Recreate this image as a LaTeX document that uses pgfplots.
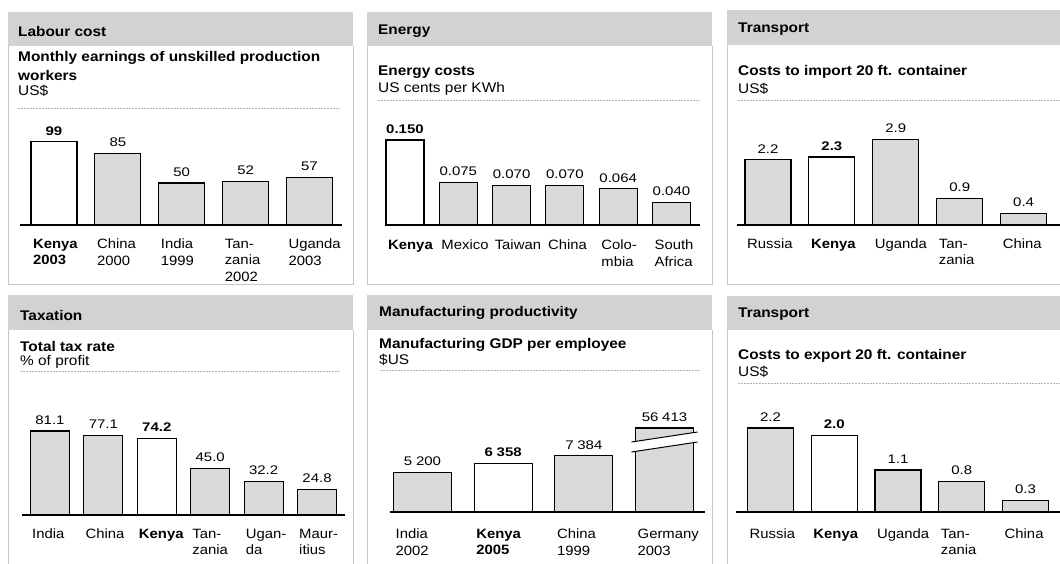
\documentclass[border=0pt]{standalone}
\usepackage{fontspec}
\setmainfont{Liberation Sans}[FakeStretch=1.1]
\newfontfamily\valfont{Liberation Sans}[FakeStretch=1.2]
\usepackage{pgfplots}
\pgfplotsset{compat=1.18}

\newcommand\hfont{\fontsize{14}{16}\selectfont\bfseries}
\newcommand\ufont{\fontsize{14}{16}\selectfont}
\newcommand\tfont{\fontsize{13.5}{16.5}\selectfont}
\newcommand\vfont{\valfont\fontsize{12.5}{14}\selectfont}
\newcommand\gsp{\hspace{0.3em}}

\pgfplotsset{
 panel/.style={scale only axis, height=100pt, clip=false,
  axis x line*=bottom, axis y line=none,
  x axis line style={line width=2.4pt,-},
  ymin=0, enlargelimits=false,
  major tick length=0pt,
  ybar, bar shift=0pt,
  nodes near coords, point meta=explicit symbolic,
  every node near coord/.append style={font=\vfont, inner sep=2pt, yshift=4pt, black},
  xticklabel style={anchor=north west, align=left, font=\tfont, inner sep=0pt, yshift=-14pt},
 },
 grey/.style={draw=black, line width=1.2pt, fill=gray!30},
 kenya/.style={draw=black, line width=1.2pt, fill=white},
}

\begin{document}
\begin{tikzpicture}
\useasboundingbox (0,0) rectangle (1060pt,-564pt);
\fill[white] (0,0) rectangle (1060pt,-564pt);

% ---------- panel frames ----------
\fill[gray!35] (8pt,-12pt) rectangle (353pt,-46pt);
\fill[gray!35] (367pt,-12pt) rectangle (712pt,-46pt);
\fill[gray!35] (727pt,-10pt) rectangle (1060pt,-45pt);
\fill[gray!35] (8pt,-295pt) rectangle (353pt,-330pt);
\fill[gray!35] (367pt,-295pt) rectangle (712pt,-330pt);
\fill[gray!35] (727pt,-296pt) rectangle (1060pt,-330pt);
\begin{scope}[gray!45, line width=0.5pt]
\draw (8pt,-46pt) -- (8pt,-284pt) -- (353pt,-284pt) -- (353pt,-46pt);
\draw (367pt,-46pt) -- (367pt,-284pt) -- (712pt,-284pt) -- (712pt,-46pt);
\draw (727pt,-45pt) -- (727pt,-284pt) -- (1060pt,-284pt);
\draw (8pt,-330pt) -- (8pt,-564pt);
\draw (353pt,-330pt) -- (353pt,-564pt);
\draw (367pt,-330pt) -- (367pt,-564pt);
\draw (712pt,-330pt) -- (712pt,-564pt);
\draw (727pt,-330pt) -- (727pt,-564pt);
\end{scope}
\begin{scope}[gray!60, dash pattern=on 2pt off 1pt, line width=0.6pt]
\draw (18pt,-108pt) -- (340pt,-108pt);
\draw (378pt,-100pt) -- (700pt,-100pt);
\draw (738pt,-100pt) -- (1060pt,-100pt);
\draw (20pt,-371pt) -- (340pt,-371pt);
\draw (380pt,-370pt) -- (700pt,-370pt);
\draw (738pt,-383pt) -- (1060pt,-383pt);
\end{scope}

% ---------- titles ----------
\node[anchor=west, font=\hfont, inner sep=0] at (18pt,-31pt) {Labour cost};
\node[anchor=west, font=\hfont, inner sep=0] at (18pt,-58pt) {Monthly earnings of unskilled production};
\node[anchor=west, font=\hfont, inner sep=0] at (18pt,-75pt) {workers};
\node[anchor=west, font=\ufont, inner sep=0] at (18pt,-91pt) {US\$};

\node[anchor=west, font=\hfont, inner sep=0] at (378pt,-31pt) {Energy};
\node[anchor=west, font=\hfont, inner sep=0] at (378pt,-72pt) {Energy costs};
\node[anchor=west, font=\ufont, inner sep=0] at (378pt,-89pt) {US cents per KWh};

\node[anchor=west, font=\hfont, inner sep=0] at (738pt,-29pt) {Transport};
\node[anchor=west, font=\hfont, inner sep=0] at (738pt,-72pt) {Costs to import 20 ft. container};
\node[anchor=west, font=\ufont, inner sep=0] at (738pt,-89pt) {US\$};

\node[anchor=west, font=\hfont, inner sep=0] at (20pt,-315pt) {Taxation};
\node[anchor=west, font=\hfont, inner sep=0] at (20pt,-346pt) {Total tax rate};
\node[anchor=west, font=\ufont, inner sep=0] at (20pt,-362pt) {\% of profit};

\node[anchor=west, font=\hfont, inner sep=0] at (379pt,-313pt) {Manufacturing productivity};
\node[anchor=west, font=\hfont, inner sep=0] at (379pt,-345pt) {Manufacturing GDP per employee};
\node[anchor=west, font=\ufont, inner sep=0] at (379pt,-360pt) {\$US};

\node[anchor=west, font=\hfont, inner sep=0] at (738pt,-314pt) {Transport};
\node[anchor=west, font=\hfont, inner sep=0] at (738pt,-356pt) {Costs to export 20 ft. container};
\node[anchor=west, font=\ufont, inner sep=0] at (738pt,-372pt) {US\$};

% ---------- Labour cost ----------
\begin{axis}[panel, at={(20pt,-225pt)}, anchor=south west,
  width=322pt, xmin=-0.532, xmax=4.509, ymax=119.05, bar width=46pt,
  xtick={0,...,4},
  xticklabels={{\textbf{Kenya}\\\textbf{2003}},{China\\2000},{India\\1999},{Tan-\\zania\\2002},{Uganda\\2003}},
  xticklabel style={xshift=-21pt}]
\addplot[grey] coordinates {(1,85) [85] (2,50) [50] (3,52) [52] (4,57) [57]};
\addplot[kenya] coordinates {(0,99) [\textbf{99}]};
\end{axis}

% ---------- Energy ----------
\begin{axis}[panel, at={(385pt,-225pt)}, anchor=south west,
  width=315pt, xmin=-0.375, xmax=5.535, ymax=0.1765, bar width=38pt,
  xtick={0,...,5},
  xticklabels={{\textbf{Kenya}},{Mexico},{Taiwan},{China},{Colo-\\mbia},{South\\Africa}},
  xticklabel style={xshift=-17pt, yshift=-1pt}]
\addplot[grey] coordinates {(1,0.075) [0.075] (2,0.070) [0.070] (3,0.070) [0.070] (4,0.064) [0.064] (5,0.040) [0.040]};
\addplot[kenya] coordinates {(0,0.150) [\textbf{0.150}]};
\end{axis}

% ---------- Transport import ----------
\begin{axis}[panel, at={(737pt,-225pt)}, anchor=south west,
  width=323pt, xmin=-0.485, xmax=4.57, ymax=3.378, bar width=46pt,
  xtick={0,...,4},
  xticklabels={{Russia},{\textbf{Kenya}},{Uganda},{Tan-\\zania},{China}},
  xticklabel style={xshift=-21pt}]
\addplot[grey] coordinates {(0,2.2) [2.2] (2,2.9) [2.9] (3,0.9) [0.9] (4,0.4) [0.4]};
\addplot[kenya] coordinates {(1,2.3) [\textbf{2.3}]};
\end{axis}

% ---------- Taxation ----------
\begin{axis}[panel, at={(22pt,-515pt)}, anchor=south west,
  width=323pt, xmin=-0.524, xmax=5.524, ymax=96.6, bar width=39pt,
  xtick={0,...,5},
  xticklabels={{India},{China},{\textbf{Kenya}},{Tan-\\zania},{Ugan-\\da},{Maur-\\itius}},
  xticklabel style={xshift=-18pt}]
\addplot[grey] coordinates {(0,81.1) [81.1] (1,77.1) [77.1] (3,45.0) [45.0] (4,32.2) [32.2] (5,24.8) [24.8]};
\addplot[kenya] coordinates {(2,74.2) [\textbf{74.2}]};
\end{axis}

% ---------- Manufacturing productivity ----------
\begin{axis}[panel, at={(390pt,-512pt)}, anchor=south west,
  width=315pt, xmin=-0.403, xmax=3.502, ymax=13158, bar width=58pt,
  xtick={0,...,3},
  xticklabels={{India\\2002},{\textbf{Kenya}\\\textbf{2005}},{China\\1999},{Germany\\2003}},
  xticklabel style={xshift=-27pt, yshift=-3pt}]
\addplot[grey] coordinates {(0,5200) [5\gsp200] (2,7384) [7\gsp384] (3,11050) [56\gsp413]};
\addplot[kenya] coordinates {(1,6358) [\textbf{6\gsp358}]};
\fill[white] (axis cs:2.591,9210) -- (axis cs:3.409,10526) -- (axis cs:3.409,9210) -- (axis cs:2.591,7895) -- cycle;
\draw[line width=1pt] (axis cs:2.591,9210) -- (axis cs:3.409,10526);
\draw[line width=1pt] (axis cs:2.591,7895) -- (axis cs:3.409,9210);
\end{axis}

% ---------- Transport export ----------
\begin{axis}[panel, at={(736pt,-512pt)}, anchor=south west,
  width=324pt, xmin=-0.541, xmax=4.541, ymax=2.618, bar width=46pt,
  xtick={0,...,4},
  xticklabels={{Russia},{\textbf{Kenya}},{Uganda},{Tan-\\zania},{China}},
  xticklabel style={xshift=-21pt, yshift=-3pt}]
\addplot[grey] coordinates {(0,2.2) [2.2] (2,1.1) [1.1] (3,0.8) [0.8] (4,0.3) [0.3]};
\addplot[kenya] coordinates {(1,2.0) [\textbf{2.0}]};
\end{axis}
\end{tikzpicture}
\end{document}
